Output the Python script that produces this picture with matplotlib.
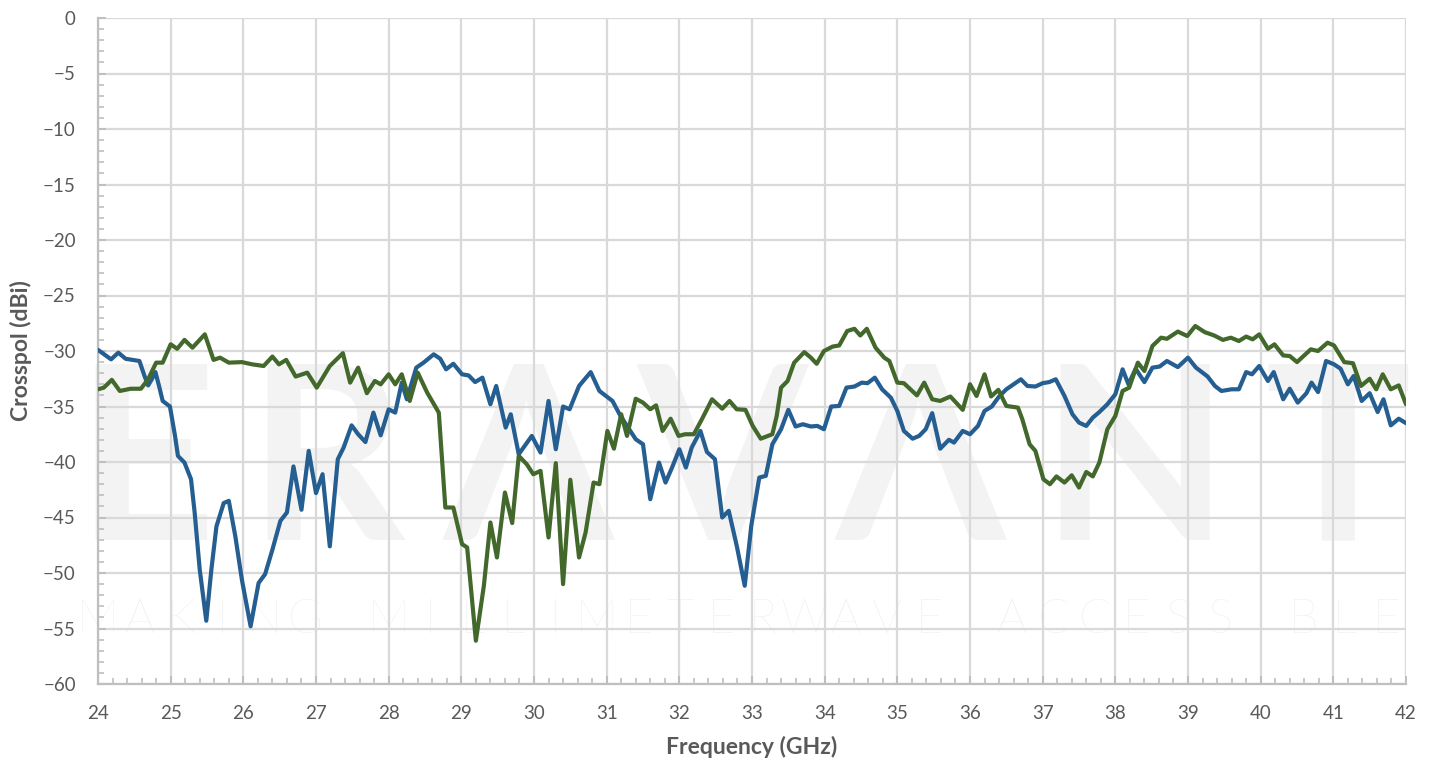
import matplotlib
matplotlib.use("Agg")
import matplotlib.pyplot as plt
from matplotlib.ticker import MultipleLocator

# Cross-polarisation measurements, frequency in GHz, level in dBi
freq_a = [24.0, 24.18, 24.28, 24.38, 24.48, 24.57, 24.64, 24.69, 24.74, 24.79,
          24.84, 24.89, 24.99, 25.06, 25.1, 25.19, 25.28, 25.33, 25.4, 25.49,
          25.56, 25.63, 25.73, 25.8, 25.89, 25.98, 26.1, 26.21, 26.3, 26.4,
          26.51, 26.6, 26.69, 26.8, 26.9, 27.0, 27.09, 27.19, 27.3, 27.38,
          27.49, 27.58, 27.68, 27.79, 27.89, 28.0, 28.09, 28.18, 28.25, 28.38,
          28.48, 28.62, 28.71, 28.79, 28.89, 29.01, 29.1, 29.19, 29.29, 29.4,
          29.48, 29.61, 29.68, 29.79, 29.97, 30.09, 30.2, 30.3, 30.4, 30.49,
          30.62, 30.78, 30.9, 31.08, 31.19, 31.28, 31.4, 31.5, 31.6, 31.72,
          31.81, 31.9, 32.0, 32.09, 32.17, 32.29, 32.38, 32.49, 32.59, 32.68,
          32.79, 32.9, 32.99, 33.1, 33.19, 33.28, 33.4, 33.5, 33.6, 33.7,
          33.81, 33.9, 33.99, 34.09, 34.2, 34.3, 34.41, 34.51, 34.59, 34.69,
          34.79, 34.91, 35.0, 35.09, 35.21, 35.3, 35.39, 35.48, 35.59, 35.71,
          35.78, 35.9, 36.0, 36.11, 36.2, 36.3, 36.4, 36.5, 36.6, 36.7,
          36.79, 36.9, 37.0, 37.09, 37.18, 37.3, 37.41, 37.5, 37.6, 37.69,
          37.78, 37.89, 38.0, 38.1, 38.18, 38.28, 38.4, 38.51, 38.61, 38.71,
          38.86, 39.0, 39.11, 39.27, 39.37, 39.46, 39.6, 39.7, 39.8, 39.88,
          39.98, 40.1, 40.18, 40.31, 40.4, 40.51, 40.63, 40.7, 40.79, 40.9,
          41.01, 41.1, 41.2, 41.28, 41.39, 41.5, 41.61, 41.69, 41.79, 41.9,
          42.0]
xpol_a = [-29.9, -30.75, -30.15, -30.7, -30.8, -30.9, -32.25, -33.1, -32.55, -31.9,
          -33.15, -34.5, -35.0, -37.65, -39.45, -40.05, -41.55, -44.55, -49.7, -54.3,
          -49.7, -45.8, -43.7, -43.5, -46.7, -50.6, -54.8, -50.9, -50.1, -47.9,
          -45.3, -44.55, -40.4, -44.3, -39.0, -42.8, -41.1, -47.6, -39.75, -38.7,
          -36.7, -37.5, -38.2, -35.55, -37.6, -35.25, -35.55, -32.85, -34.35, -31.5,
          -31.05, -30.3, -30.7, -31.65, -31.15, -32.1, -32.2, -32.8, -32.4, -34.8,
          -33.15, -36.9, -35.7, -39.3, -37.65, -39.15, -34.5, -38.85, -35.0, -35.25,
          -33.15, -31.9, -33.6, -34.5, -35.85, -36.75, -37.95, -38.4, -43.35, -40.05,
          -41.85, -40.5, -38.85, -40.5, -38.7, -37.2, -39.1, -39.75, -45.0, -44.4,
          -47.55, -51.15, -45.75, -41.4, -41.25, -38.4, -37.05, -35.3, -36.8, -36.6,
          -36.8, -36.75, -37.05, -35.0, -34.95, -33.3, -33.2, -32.85, -32.9, -32.4,
          -33.45, -34.2, -35.4, -37.2, -37.9, -37.65, -37.05, -35.6, -38.8, -38.0,
          -38.25, -37.2, -37.5, -36.75, -35.4, -35.0, -34.1, -33.45, -33.0, -32.55,
          -33.15, -33.2, -32.9, -32.8, -32.55, -34.05, -35.7, -36.45, -36.75, -36.0,
          -35.5, -34.8, -33.9, -31.65, -33.0, -31.6, -32.8, -31.5, -31.4, -30.9,
          -31.45, -30.6, -31.5, -32.3, -33.15, -33.6, -33.45, -33.45, -31.9, -32.1,
          -31.35, -32.7, -31.9, -34.35, -33.4, -34.65, -33.8, -32.85, -33.7, -30.9,
          -31.2, -31.6, -33.0, -32.25, -34.5, -33.8, -35.5, -34.35, -36.7, -36.1,
          -36.5]

freq_b = [24.0, 24.08, 24.19, 24.3, 24.45, 24.59, 24.69, 24.8, 24.89, 25.0,
          25.09, 25.19, 25.3, 25.47, 25.59, 25.68, 25.8, 25.98, 26.12, 26.28,
          26.4, 26.49, 26.59, 26.72, 26.88, 27.01, 27.19, 27.37, 27.47, 27.58,
          27.7, 27.81, 27.89, 28.0, 28.09, 28.18, 28.29, 28.4, 28.53, 28.69,
          28.78, 28.89, 29.01, 29.08, 29.2, 29.31, 29.4, 29.49, 29.6, 29.7,
          29.79, 29.9, 29.99, 30.09, 30.2, 30.3, 30.4, 30.5, 30.62, 30.71,
          30.82, 30.9, 31.01, 31.1, 31.2, 31.28, 31.4, 31.5, 31.6, 31.68,
          31.77, 31.88, 31.99, 32.08, 32.2, 32.31, 32.45, 32.59, 32.69, 32.79,
          32.91, 33.01, 33.12, 33.28, 33.34, 33.4, 33.49, 33.58, 33.72, 33.81,
          33.89, 33.99, 34.11, 34.2, 34.31, 34.41, 34.49, 34.58, 34.7, 34.82,
          34.89, 35.0, 35.09, 35.27, 35.37, 35.48, 35.59, 35.73, 35.9, 36.0,
          36.09, 36.2, 36.29, 36.39, 36.5, 36.66, 36.72, 36.82, 36.9, 37.01,
          37.1, 37.19, 37.3, 37.4, 37.5, 37.6, 37.69, 37.78, 37.89, 38.0,
          38.1, 38.19, 38.31, 38.4, 38.51, 38.63, 38.71, 38.86, 38.99, 39.1,
          39.23, 39.36, 39.48, 39.59, 39.7, 39.8, 39.89, 39.98, 40.1, 40.19,
          40.31, 40.4, 40.5, 40.69, 40.79, 40.92, 41.01, 41.15, 41.27, 41.38,
          41.5, 41.59, 41.68, 41.79, 41.9, 42.0]
xpol_b = [-33.45, -33.3, -32.6, -33.6, -33.4, -33.4, -32.55, -31.05, -31.05, -29.4,
          -29.8, -29.0, -29.7, -28.5, -30.8, -30.6, -31.05, -31.0, -31.2, -31.35,
          -30.5, -31.2, -30.8, -32.3, -31.95, -33.3, -31.35, -30.2, -32.85, -31.5,
          -33.8, -32.7, -33.0, -32.1, -33.0, -32.1, -34.5, -31.95, -33.75, -35.55,
          -44.1, -44.1, -47.4, -47.7, -56.1, -51.15, -45.45, -48.6, -42.75, -45.5,
          -39.45, -40.2, -41.1, -40.8, -46.8, -40.1, -51.0, -41.6, -48.6, -46.35,
          -41.85, -42.0, -37.2, -38.8, -35.7, -37.65, -34.3, -34.65, -35.25, -34.9,
          -37.2, -36.1, -37.65, -37.5, -37.5, -36.15, -34.35, -35.2, -34.5, -35.25,
          -35.3, -36.75, -37.9, -37.5, -35.85, -33.3, -32.7, -31.05, -30.1, -30.6,
          -31.15, -30.0, -29.6, -29.5, -28.2, -28.0, -28.6, -28.0, -29.7, -30.6,
          -30.9, -32.85, -32.9, -34.0, -32.85, -34.35, -34.5, -34.1, -35.3, -33.0,
          -34.05, -32.1, -34.1, -33.5, -34.95, -35.1, -36.15, -38.4, -39.0, -41.55,
          -42.0, -41.3, -41.85, -41.2, -42.3, -40.9, -41.3, -40.05, -37.05, -35.85,
          -33.6, -33.3, -31.05, -31.8, -29.55, -28.8, -28.9, -28.25, -28.65, -27.75,
          -28.3, -28.6, -29.0, -28.8, -29.1, -28.7, -28.95, -28.5, -29.8, -29.4,
          -30.4, -30.45, -31.0, -29.85, -30.0, -29.25, -29.5, -31.0, -31.1, -33.15,
          -32.5, -33.45, -32.1, -33.45, -33.1, -34.8]

x_ticks = list(range(24, 43))
y_ticks = list(range(-60, 1, 5))

text_grey = "#595959"
grid_grey = "#d9d9d9"
axis_grey = "#bfbfbf"
fonts = ["Lato", "DejaVu Sans"]

W, H = 1436, 759
fig = plt.figure(figsize=(W / 100, H / 100), dpi=100)
ax = fig.add_axes([98 / W, 75 / H, 1308 / W, 666 / H])
ax.set_facecolor("none")

# brand watermark, drawn underneath the grid and the curves
brand_letters = ["E", "R", "Λ", "V", "Λ", "N", "T"]
brand_px = [146, 326, 528, 722, 920, 1134, 1338]
for ch, px in zip(brand_letters, brand_px):
    ax.text(px / W, (H - 540) / H, ch, transform=fig.transFigure,
            fontsize=176, fontweight="bold", ha="center", va="baseline",
            family=fonts, color="#f3f3f3", zorder=0.1, clip_on=False)
tagline = "MAKING MILLIMETERWAVE ACCESSIBLE"
n = len(tagline)
for i, ch in enumerate(tagline):
    ax.text((98 + i * (1288 / (n - 1))) / W, (H - 633) / H, ch,
            transform=fig.transFigure, fontsize=34, ha="center",
            va="baseline", family=fonts, color="#ececec",
            fontweight="light", zorder=0.1, clip_on=False)

ax.plot(freq_a, xpol_a, color="#255E91", lw=3.0, solid_joinstyle="round",
        solid_capstyle="round", zorder=3)
ax.plot(freq_b, xpol_b, color="#43682B", lw=3.0, solid_joinstyle="round",
        solid_capstyle="round", zorder=3)

ax.set_xlim(24, 42)
ax.set_ylim(-60, 0)
ax.set_xticks(x_ticks)
ax.set_yticks(y_ticks)
ax.xaxis.set_minor_locator(MultipleLocator(0.2))
ax.yaxis.set_minor_locator(MultipleLocator(1))
ax.set_axisbelow(True)
ax.grid(True, which="major", color=grid_grey, lw=1.6, zorder=0.5)

for side in ("top", "right"):
    ax.spines[side].set_visible(False)
for side in ("left", "bottom"):
    ax.spines[side].set_color(axis_grey)
    ax.spines[side].set_linewidth(1.6)

ax.tick_params(which="major", direction="in", length=6, width=1.4,
               color=axis_grey, labelcolor=text_grey, labelsize=13.5)
ax.tick_params(which="minor", direction="in", length=4.5, width=1.2,
               color=axis_grey)
ax.tick_params(axis="y", which="major", pad=16)
ax.tick_params(axis="x", which="major", pad=15)
for lab in ax.get_xticklabels() + ax.get_yticklabels():
    lab.set_family(fonts)

ax.set_xlabel("Frequency (GHz)", fontsize=16.5, fontweight="bold",
              color=text_grey, family=fonts, labelpad=10)
ax.set_ylabel("Crosspol (dBi)", fontsize=16.5, fontweight="bold",
              color=text_grey, family=fonts, labelpad=8)

fig.savefig("out.png", dpi=100)
